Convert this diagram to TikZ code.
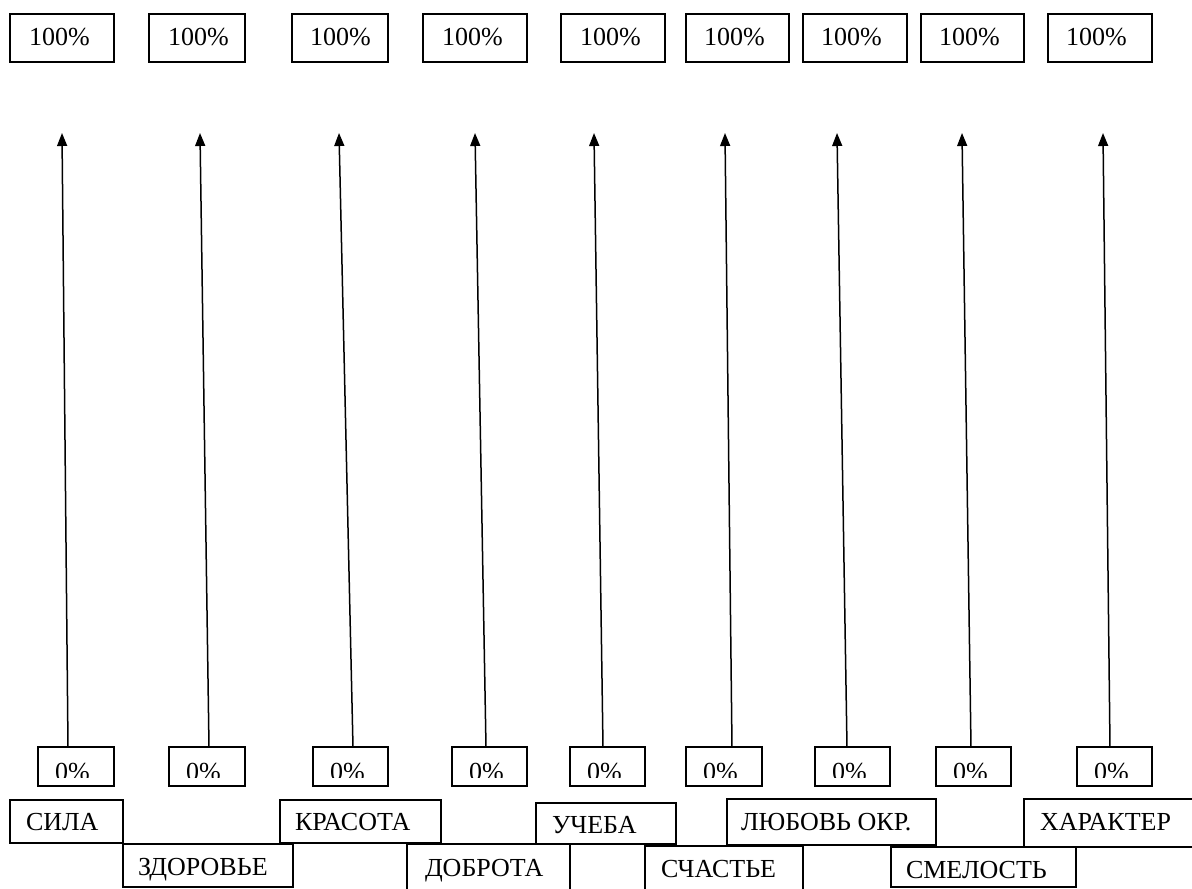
\documentclass[tikz,border=0pt]{standalone}
\usepackage{fontspec}
\setmainfont{Liberation Serif}
\usetikzlibrary{arrows.meta}
\tikzset{
  bx/.style={draw, line width=1.5pt, inner sep=0pt, outer sep=0pt, anchor=north west},
  txt/.style={anchor=base west, inner sep=0pt, outer sep=0pt, font=\fontsize{26}{31}\selectfont},
  arr/.style={line width=1.5pt, -{Triangle[length=13pt,width=10pt]}}
}
% name, x1, y1, x2, y2, text x, baseline, text
\newcommand\mybox[8]{%
  \node[bx, minimum width={(#4-#2)*1pt}, minimum height={(#5-#3)*1pt}] (#1) at (#2,#3) {};
  \node[txt] (#1t) at (#6,#7) {#8};}
% name, x1, x2, bottom line x, top tip x
\newcommand\zbox[5]{%
  \node[bx, minimum width={(#3-#2)*1pt}, minimum height={39pt}] (#1) at (#2,747) {};
  \begin{scope}
    \clip (#2,747) rectangle (#3,777);
    \node[txt] (#1t) at ({#2+17},780) {0\%};
  \end{scope}
  \coordinate (#1b) at (#4,747);
  \coordinate (#1a) at (#5,133);
  \draw[arr] (#1b) -- (#1a);}
\begin{document}
\begin{tikzpicture}[x=1pt,y=-1pt]
\useasboundingbox (0,0) rectangle (1192,889);
\clip (0,0) rectangle (1192,889);
\fill[white] (0,0) rectangle (1192,889);
% top boxes
\mybox{p1}{10}{14}{114}{62}{29}{45}{100\%}
\mybox{p2}{149}{14}{245}{62}{168}{45}{100\%}
\mybox{p3}{292}{14}{388}{62}{310}{45}{100\%}
\mybox{p4}{423}{14}{527}{62}{442}{45}{100\%}
\mybox{p5}{561}{14}{665}{62}{580}{45}{100\%}
\mybox{p6}{686}{14}{789}{62}{704}{45}{100\%}
\mybox{p7}{803}{14}{907}{62}{821}{45}{100\%}
\mybox{p8}{921}{14}{1024}{62}{939}{45}{100\%}
\mybox{p9}{1048}{14}{1152}{62}{1066}{45}{100\%}
% zero boxes and arrows
\zbox{z1}{38}{114}{68}{62}
\zbox{z2}{169}{245}{209}{200}
\zbox{z3}{313}{388}{353}{339}
\zbox{z4}{452}{527}{486}{475}
\zbox{z5}{570}{645}{603}{594}
\zbox{z6}{686}{762}{732}{725}
\zbox{z7}{815}{890}{847}{837}
\zbox{z8}{936}{1011}{971}{962}
\zbox{z9}{1077}{1152}{1110}{1103}
% labels
\mybox{l1}{10}{800}{123}{843}{26}{830}{СИЛА}
\mybox{l2}{123}{844}{293}{887}{138}{875}{ЗДОРОВЬЕ}
\mybox{l3}{280}{800}{441}{843}{295}{830}{КРАСОТА}
\mybox{l4}{407}{844}{570}{900}{425}{876}{ДОБРОТА}
\mybox{l5}{536}{803}{676}{844}{552}{833}{УЧЕБА}
\mybox{l6}{645}{846}{803}{900}{661}{877}{СЧАСТЬЕ}
\mybox{l7}{727}{799}{936}{845}{741}{830}{ЛЮБОВЬ ОКР.}
\mybox{l8}{891}{847}{1076}{887}{906}{878}{СМЕЛОСТЬ}
\mybox{l9}{1024}{799}{1210}{847}{1040}{830}{ХАРАКТЕР}
\end{tikzpicture}
\end{document}
